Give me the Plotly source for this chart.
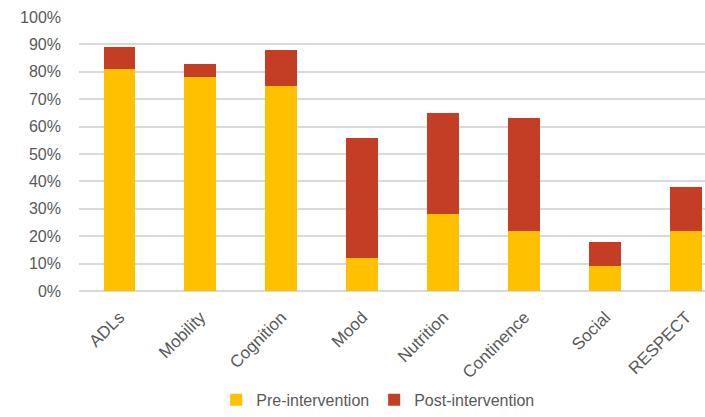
import plotly.graph_objects as go

categories = ["ADLs", "Mobility", "Cognition", "Mood", "Nutrition", "Continence", "Social", "RESPECT"]
pre = [0.81, 0.78, 0.75, 0.12, 0.28, 0.22, 0.09, 0.22]
post = [0.08, 0.05, 0.13, 0.44, 0.37, 0.41, 0.09, 0.16]
y_ticks = [0, 0.1, 0.2, 0.3, 0.4, 0.5, 0.6, 0.7, 0.8, 0.9, 1.0]

font_family = "Liberation Sans"
gray = "#595959"

fig = go.Figure()
fig.add_trace(go.Bar(x=categories, y=pre, name="Pre-intervention",
                     marker=dict(color="#FFC000", line=dict(width=0)), width=0.395))
fig.add_trace(go.Bar(x=categories, y=post, name="Post-intervention",
                     marker=dict(color="#C43E26", line=dict(width=0)), width=0.395))

fig.update_layout(
    barmode="stack",
    width=705, height=417,
    margin=dict(l=79, r=0, t=17, b=126, autoexpand=False),
    plot_bgcolor="white", paper_bgcolor="white",
    font=dict(family=font_family, size=16, color=gray),
    showlegend=True,
    legend=dict(orientation="h", x=0.478, xanchor="center", y=-0.459, yanchor="bottom",
                font=dict(size=16, color=gray), itemwidth=30, traceorder="normal"),
    xaxis=dict(range=[-0.5, 7.23], tickangle=-45, showgrid=False, showline=False,
               automargin=False,
               ticks="", tickfont=dict(size=17, color=gray), ticklabelstandoff=12),
    yaxis=dict(range=[0, 1.0], tickvals=y_ticks, tickformat=".0%", showgrid=True,
               automargin=False,
               gridcolor="#D9D9D9", gridwidth=1.5, zeroline=True, zerolinecolor="#D9D9D9",
               zerolinewidth=1.5, showline=False, ticks="", tickfont=dict(size=16, color=gray),
               ticklabelstandoff=17),
)

fig.write_html("out.html")
